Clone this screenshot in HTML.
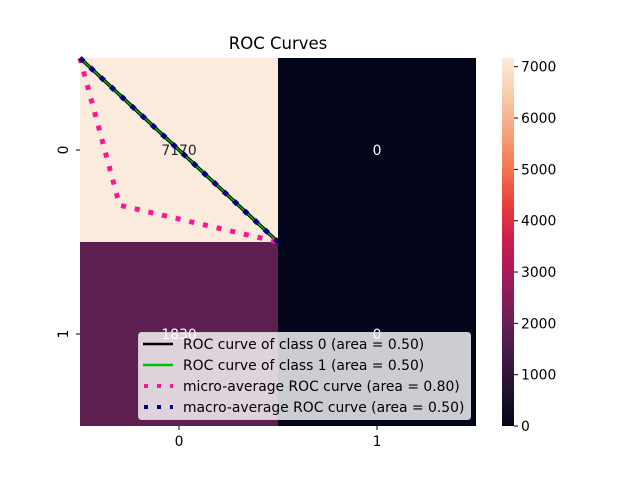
<!DOCTYPE html>
<html><head><meta charset="utf-8"><style>
body{margin:0;background:#fff;font-family:"DejaVu Sans","Liberation Sans",sans-serif}
</style></head><body>
<svg width="640" height="480" viewBox="0 0 640 480" style="font-family:'DejaVu Sans','Liberation Sans',sans-serif">
<defs>
<linearGradient id="rocket" x1="0" y1="1" x2="0" y2="0">
<stop offset="0" stop-color="#03051a"/><stop offset="0.1" stop-color="#221331"/>
<stop offset="0.2" stop-color="#451c47"/><stop offset="0.3" stop-color="#701f57"/>
<stop offset="0.4" stop-color="#a11a5b"/><stop offset="0.5" stop-color="#cb1b4f"/>
<stop offset="0.6" stop-color="#ec3c3b"/><stop offset="0.7" stop-color="#f37651"/>
<stop offset="0.8" stop-color="#f6a47c"/><stop offset="0.9" stop-color="#f8cdac"/>
<stop offset="1" stop-color="#faebdd"/>
</linearGradient>
</defs>
<text x="278" y="49" text-anchor="middle" font-size="16.5">ROC Curves</text>
<g id="cells"></g>
<g id="lines"></g>
<g id="axes"></g>
<rect x="502" y="58" width="12" height="368" fill="url(#rocket)"/>
<g id="cbticks"></g>
<g>
<rect x="138.5" y="332.5" width="332" height="87" rx="3" fill="#fff" fill-opacity="0.8" stroke="#ccc"/>
<line x1="143" y1="344" x2="173" y2="344" stroke="#000" stroke-width="2.5"/>
<text x="183" y="349" font-size="13.9">ROC curve of class 0 (area = 0.50)</text>
<line x1="143" y1="365" x2="173" y2="365" stroke="#00c000" stroke-width="2.5"/>
<text x="183" y="370" font-size="13.9">ROC curve of class 1 (area = 0.50)</text>
<line x1="144" y1="386" x2="173" y2="386" stroke="#ff1493" stroke-width="4" stroke-dasharray="4,9"/>
<text x="183" y="391" font-size="13.9">micro-average ROC curve (area = 0.80)</text>
<line x1="144" y1="407" x2="173" y2="407" stroke="#000080" stroke-width="4" stroke-dasharray="4,9"/>
<text x="183" y="412" font-size="13.9">macro-average ROC curve (area = 0.50)</text>
</g>
</svg>
<script>
const matrix=[[7170,0],[1830,0]];
const fpr0=[0,1], tpr0=[0,1];
const fpr1=[0,1], tpr1=[0,1];
const fprMicro=[0,0.2,1], tprMicro=[0,0.8,1];
const fprMacro=[0,1], tprMacro=[0,1];
const cbTicks=[0,1000,2000,3000,4000,5000,6000,7000];
const NS='http://www.w3.org/2000/svg';
const X=v=>80+v*198, Y=v=>58+v*184;
const vmax=7170, cbY=v=>426-v/vmax*368;
const stops=[[3,5,26],[34,19,49],[69,28,71],[112,31,87],[161,26,91],[203,27,79],[236,60,59],[243,118,81],[246,164,124],[248,205,172],[250,235,221]];
function color(t){t=Math.max(0,Math.min(1,t))*10;const i=Math.min(9,Math.floor(t)),f=t-i;const a=stops[i],b=stops[i+1];return 'rgb('+a.map((c,k)=>Math.round(c+(b[k]-c)*f)).join(',')+')';}
function mk(tag,attrs,parent){const e=document.createElementNS(NS,tag);for(const k in attrs)e.setAttribute(k,attrs[k]);document.getElementById(parent).appendChild(e);return e;}
matrix.forEach((row,r)=>row.forEach((v,c)=>{
 const t=v/vmax;
 const rc=mk('rect',{x:X(c),y:Y(r),width:198,height:184,fill:color(t)},'cells');
 
 
 const tx=mk('text',{x:X(c)+99,y:Y(r)+97,'text-anchor':'middle','font-size':'13.9',fill:t>0.5?'#262626':'#fff'},'cells');
 tx.textContent=v;
 
 
}));
function line(fx,ty,attrs,name){
 const p=mk('polyline',Object.assign({points:fx.map((f,i)=>X(f)+','+Y(ty[i])).join(' '),fill:'none'},attrs),'lines');
 
 
}
line(fpr0,tpr0,{stroke:'#000','stroke-width':3.5},'roc-class-0');
line(fpr1,tpr1,{stroke:'#00c000','stroke-width':1.5},'roc-class-1');
line(fprMicro,tprMicro,{stroke:'#ff1493','stroke-width':5,'stroke-dasharray':'5,9'},'roc-micro');
line(fprMacro,tprMacro,{stroke:'#000080','stroke-width':5,'stroke-dasharray':'5,9'},'roc-macro');
[0,1].forEach(i=>{
 const cx=X(i+0.5);
 mk('line',{x1:cx,y1:426,x2:cx,y2:430,stroke:'#000'},'axes');
 const t=mk('text',{x:cx,y:446,'text-anchor':'middle','font-size':'13.9'},'axes');t.textContent=i;
 
 
 const cy=Y(i+0.5);
 mk('line',{x1:76,y1:cy,x2:80,y2:cy,stroke:'#000'},'axes');
 const u=mk('text',{x:0,y:0,'text-anchor':'middle','font-size':'13.9',transform:'translate(68,'+cy+') rotate(-90)'},'axes');u.textContent=i;
 
 
});
cbTicks.forEach(v=>{
 const y=cbY(v);
 mk('line',{x1:514,y1:y,x2:518,y2:y,stroke:'#000'},'cbticks');
 const t=mk('text',{x:521,y:y+5,'font-size':'13.9'},'cbticks');t.textContent=v;
 
 
});
</script>
</body></html>
